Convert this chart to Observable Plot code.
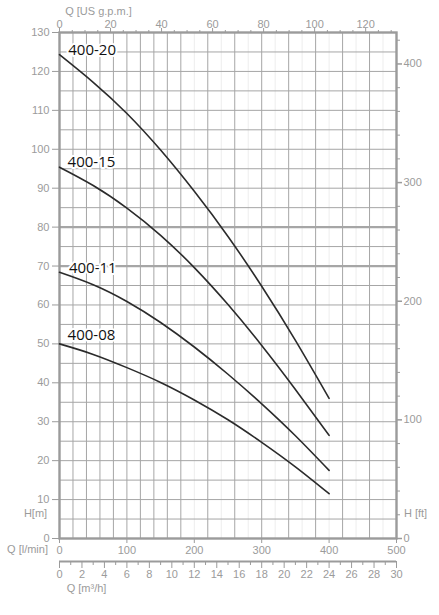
<!DOCTYPE html>
<html>
<head>
<meta charset="utf-8">
<script src="https://cdn.jsdelivr.net/npm/d3@7"></script>
<script src="https://cdn.jsdelivr.net/npm/@observablehq/plot@0.6"></script>
<style>
  html, body { margin: 0; padding: 0; background: #fff; }
  #chart svg { display: block; }
</style>
</head>
<body>
<div id="chart"></div>
<script>
// ---- data (flow in l/min, head in m) ----
const flow = [0, 50, 100, 150, 200, 250, 300, 350, 400];
const pumps = ["400-20", "400-15", "400-11", "400-08"];
const h400_20 = [124.3, 117.2, 109.2, 99.8, 89.2, 77.6, 64.8, 50.9, 36.0];
const h400_15 = [95.4, 90.7, 84.9, 77.9, 69.6, 60.1, 49.6, 38.3, 26.5];
const h400_11 = [68.4, 65.2, 60.9, 55.5, 49.2, 42.2, 34.6, 26.4, 17.5];
const h400_08 = [50.0, 47.3, 43.9, 40.1, 35.6, 30.5, 24.7, 18.4, 11.5];
const labelQ = [13, 12, 14, 12];
const labelH = [125.5, 96.7, 69.5, 52.3];

// ---- axes / ticks ----
const hTicks = [0, 10, 20, 30, 40, 50, 60, 70, 80, 90, 100, 110, 120, 130];
const lminTicks = [0, 100, 200, 300, 400, 500];
const gpmMajor = [0, 20, 40, 60, 80, 100, 120];
const gpmMinor = [5, 10, 15, 25, 30, 35, 45, 50, 55, 65, 70, 75, 85, 90, 95, 105, 110, 115, 125, 130];
const ftMajor = [0, 100, 200, 300, 400];
const ftMinor = [20, 40, 60, 80, 120, 140, 160, 180, 220, 240, 260, 280, 320, 340, 360, 380, 420];
const m3hMajor = [0, 2, 4, 6, 8, 10, 12, 14, 16, 18, 20, 22, 24, 26, 28, 30];
const m3hMinor = [1, 3, 5, 7, 9, 11, 13, 15, 17, 19, 21, 23, 25, 27, 29];
const gridQ = [20, 40, 60, 80, 100, 120, 140, 160, 180, 220, 260, 300, 340, 380, 420, 460];
const faintQ = [200, 240, 280, 320, 360, 400, 440, 480];
const gridH = [5, 10, 15, 20, 25, 30, 35, 40, 45, 50, 55, 60, 65, 75, 85, 90, 95, 100, 105, 110, 115, 120, 125];
const boldH = [70, 80];

// unit conversions
const GPM = 3.785411784;   // l/min per US gpm
const M3H = 1000 / 60;     // l/min per m3/h
const FT = 0.3048;         // m per ft

const series = [h400_20, h400_15, h400_11, h400_08];
const rows = [];
pumps.forEach((p, i) => flow.forEach((q, j) => rows.push({pump: p, q, h: series[i][j]})));
const labelRows = pumps.map((p, i) => ({name: p, q: labelQ[i], h: labelH[i]}));

const gray = "#9b9b9b";
const axisStyle = {stroke: gray, color: gray, fill: gray, label: null};

const chart = Plot.plot({
  width: 439,
  height: 615,
  marginTop: 32,
  marginBottom: 77,
  marginLeft: 59,
  marginRight: 43,
  style: {fontFamily: "'Liberation Sans', Arial, sans-serif", fontSize: "11px", background: "#fff", color: gray},
  x: {domain: [0, 500], label: null},
  y: {domain: [0, 130], label: null},
  marks: [
    Plot.ruleX(faintQ, {stroke: "#ededed", strokeWidth: 1}),
    Plot.ruleX(gridQ, {stroke: "#a6a6a6", strokeWidth: 1}),
    Plot.ruleY(gridH, {stroke: "#a6a6a6", strokeWidth: 1}),
    Plot.ruleY(boldH, {stroke: "#a6a6a6", strokeWidth: 2.2}),
    Plot.frame({stroke: gray, strokeWidth: 2.4}),

    // left axis H [m]
    Plot.axisY(hTicks, {anchor: "left", tickSize: 7, tickPadding: 3, ...axisStyle}),
    // right axis H [ft]
    Plot.axisY(ftMajor.map(v => v * FT), {anchor: "right", tickSize: 5, tickPadding: 2, strokeWidth: 1.5,
      tickFormat: d => String(Math.round(d / FT)), ...axisStyle}),
    Plot.axisY(ftMinor.map(v => v * FT), {anchor: "right", tickSize: 3, tickFormat: () => "", ...axisStyle}),
    // bottom axis Q [l/min]
    Plot.axisX(lminTicks, {anchor: "bottom", tickSize: 5, tickPadding: 3, ...axisStyle}),
    // top axis Q [US gpm]
    Plot.axisX(gpmMajor.map(v => v * GPM), {anchor: "top", tickSize: 5, tickPadding: 0,
      tickFormat: d => String(Math.round(d / GPM)), ...axisStyle}),
    Plot.axisX(gpmMinor.map(v => v * GPM), {anchor: "top", tickSize: 3, tickFormat: () => "", ...axisStyle}),
    // second bottom axis Q [m3/h]
    Plot.ruleY([0], {stroke: gray, strokeWidth: 2.2, dy: 23}),
    Plot.axisX(m3hMajor.map(v => v * M3H), {anchor: "bottom", dy: 23, tickSize: 7, tickPadding: 2,
      tickFormat: d => String(Math.round(d / M3H)), ...axisStyle}),
    Plot.axisX(m3hMinor.map(v => v * M3H), {anchor: "bottom", dy: 23, tickSize: 4, tickFormat: () => "", ...axisStyle}),

    // axis titles
    Plot.text(["H[m]"], {frameAnchor: "bottom-left", dx: -24, dy: -22, fill: gray, textAnchor: "middle"}),
    Plot.text(["Q [l/min]"], {frameAnchor: "bottom-left", dx: -32, dy: 14, fill: gray, textAnchor: "middle"}),
    Plot.text(["Q [m³/h]"], {frameAnchor: "bottom-left", dx: 27, dy: 53, fill: gray, textAnchor: "middle"}),
    Plot.text(["Q [US g.p.m.]"], {frameAnchor: "top-left", dx: 39, dy: -25, fill: gray, textAnchor: "middle"}),
    Plot.text(["H [ft]"], {frameAnchor: "bottom-right", dx: 19, dy: -22, fill: gray, textAnchor: "middle"}),

    // curves
    Plot.line(rows, {x: "q", y: "h", z: "pump", curve: "natural", stroke: "#2b2b2b", strokeWidth: 1.6}),
    Plot.text(labelRows, {x: "q", y: "h", text: "name", textAnchor: "start", fill: "#111",
      stroke: "#fff", strokeWidth: 4, fontSize: 15, fontFamily: "'Open Sans', sans-serif"})
  ]
});
document.getElementById("chart").appendChild(chart);
</script>
</body>
</html>
